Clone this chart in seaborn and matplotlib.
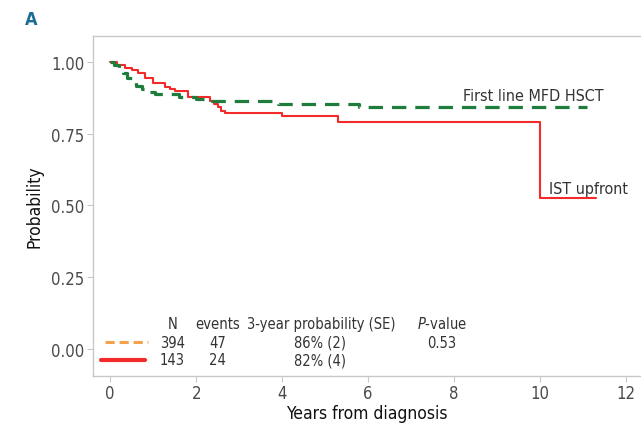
import matplotlib
matplotlib.use("Agg")
import matplotlib.pyplot as plt
from matplotlib.font_manager import findfont, FontProperties
import seaborn as sns
import pandas as pd

# ---- data ----
hsct_time = [0, 0.1, 0.2, 0.3, 0.4, 0.5, 0.6, 0.75, 0.9, 1.05, 1.6, 2.0, 2.37, 3.9, 5.8, 11.1]
hsct_surv = [1.0, 0.99, 0.975, 0.96, 0.945, 0.93, 0.915, 0.905, 0.895, 0.888, 0.879, 0.869, 0.862, 0.854, 0.843, 0.843]

ist_time = [0, 0.16, 0.35, 0.5, 0.65, 0.8, 1.0, 1.28, 1.4, 1.5, 1.8, 2.33, 2.42, 2.5, 2.58, 2.66, 4.0, 5.3, 10.0, 11.3]
ist_surv = [1.0, 0.99, 0.98, 0.97, 0.96, 0.945, 0.927, 0.913, 0.906, 0.898, 0.879, 0.865, 0.854, 0.843, 0.83, 0.822, 0.81, 0.79, 0.526, 0.526]

group_labels = ["First line MFD HSCT", "IST upfront"]
table_header = ["N", "events", "3-year probability (SE)", "$\\it{P}$-value"]
table_n = ["394", "143"]
table_events = ["47", "24"]
table_prob = ["86% (2)", "82% (4)"]
table_p = ["0.53"]

x_ticks = [0, 2, 4, 6, 8, 10, 12]
y_ticks = [0.0, 0.25, 0.5, 0.75, 1.0]
y_ticklabels = ["0.00", "0.25", "0.50", "0.75", "1.00"]

# ---- styling ----
sns.set_style("white")
cond_path = findfont(FontProperties(family="DejaVu Sans", stretch="condensed"))
if "Condensed" in cond_path:
    plt.rcParams['font.family'] = ['DejaVu Sans']
    plt.rcParams['font.stretch'] = 'condensed'
    FS = 1.0
else:
    plt.rcParams['font.family'] = ['Liberation Sans', 'DejaVu Sans']
    FS = 0.9

GREEN = "#1e7d3c"
RED = "#f42a2a"
ORANGE = "#f5a04a"
TXT = "#333333"

fig = plt.figure(figsize=(6.41, 4.27), dpi=100)
ax = fig.add_axes([93/641, 1 - 377/427, 1 - 93/641, (377 - 37)/427])

df_h = pd.DataFrame({"t": hsct_time, "s": hsct_surv})
df_i = pd.DataFrame({"t": ist_time, "s": ist_surv})

sns.lineplot(data=df_i, x="t", y="s", ax=ax, color=RED, lw=1.5,
             drawstyle="steps-post", sort=False, estimator=None)
sns.lineplot(data=df_h, x="t", y="s", ax=ax, color=GREEN, lw=2.3,
             drawstyle="steps-post", sort=False, estimator=None,
             dashes=False, linestyle=(0, (4.5, 2.8)))

ax.set_xlim(-0.4, 12.35)
ax.set_ylim(-0.094, 1.09)
ax.set_xticks(x_ticks)
ax.set_xticklabels([str(v) for v in x_ticks])
ax.set_yticks(y_ticks)
ax.set_yticklabels(y_ticklabels)

for side in ["left", "top", "bottom"]:
    ax.spines[side].set_color("#c8c8c8")
    ax.spines[side].set_linewidth(1.0)
ax.spines["right"].set_visible(False)

ax.tick_params(axis="both", which="both", length=4, width=0.8, color="#c8c8c8",
               labelsize=12 * FS, labelcolor="#4a4a4a", direction="out", pad=2)
ax.tick_params(axis="x", pad=2, bottom=True)
ax.tick_params(axis="y", left=True)

ax.set_xlabel("Years from diagnosis", fontsize=12.5 * FS, color="#111111", labelpad=1)
ax.set_ylabel("Probability", fontsize=12.5 * FS, color="#111111", labelpad=6)

# curve labels
ax.text(8.2, 0.882, group_labels[0], fontsize=11.5 * FS, color=TXT, ha="left", va="center")
ax.text(10.2, 0.56, group_labels[1], fontsize=11.5 * FS, color=TXT, ha="left", va="center")

# table-like legend
yh, y1, y2 = 0.09, 0.024, -0.038
ax.plot([-0.12, 0.88], [y1, y1], color=ORANGE, lw=2.2, ls=(0, (3, 1.6)), clip_on=False)
ax.plot([-0.22, 0.82], [y2, y2], color=RED, lw=3, clip_on=False)
cols = [1.45, 2.5, 4.92, 7.72]
tfs = 10.5 * FS
for cx, h in zip(cols, table_header):
    ax.text(cx, yh, h, fontsize=tfs, color=TXT, ha="center", va="center")
for yy, n, e, p in zip([y1, y2], table_n, table_events, table_prob):
    ax.text(cols[0], yy, n, fontsize=tfs, color=TXT, ha="center", va="center")
    ax.text(cols[1], yy, e, fontsize=tfs, color=TXT, ha="center", va="center")
    ax.text(cols[2] - 0.05, yy, p, fontsize=tfs, color=TXT, ha="center", va="center")
ax.text(cols[3], y1, table_p[0], fontsize=tfs, color=TXT, ha="center", va="center")

fig.text(25/641, 1 - 20/427, "A", fontsize=13, fontweight="bold", color="#1a6f93",
         ha="left", va="center")

fig.savefig("out.png", dpi=100)
